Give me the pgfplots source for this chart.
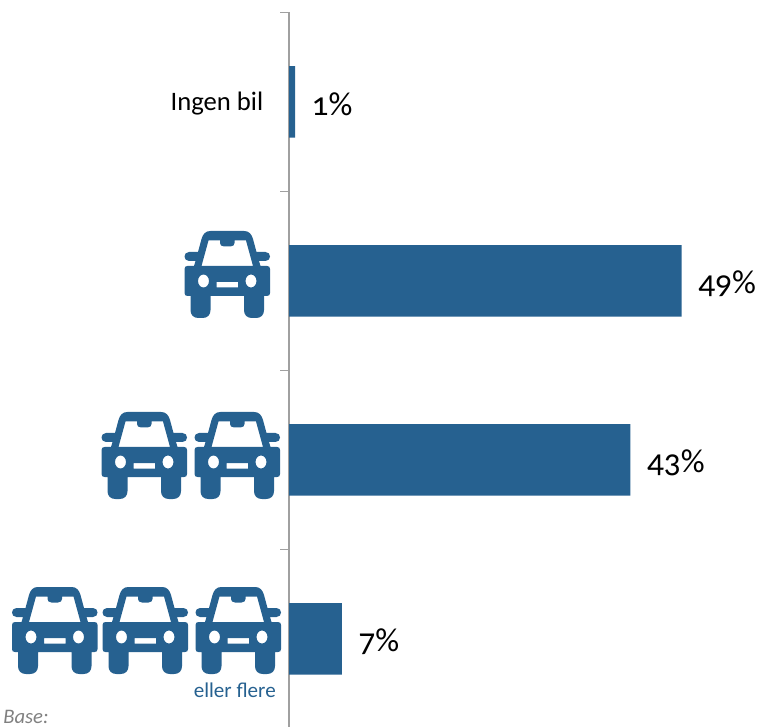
\documentclass[border=0pt]{standalone}
\usepackage{pgfplots}
\usepackage{pgfplotstable}
\usepackage{fontspec}
\pgfplotsset{compat=1.18}
\setmainfont[Numbers=OldStyle]{Carlito}
\definecolor{barblue}{HTML}{266190}
\definecolor{axgray}{HTML}{A0A0A0}
\pgfplotstableread{
x y m
0.75 0 1
49 1 49
42.6 2 43
6.6 3 7
}\shares
% car icon: drawn in reference pixels, origin at the icon's top-left corner (85.5 x 87 px)
\newcommand{\car}[2]{%
\begin{scope}[shift={(#1,#2)}]
\fill[barblue,even odd rule]
 (11,30) -- (4.5,30) .. controls (-1.5,30) and (-1.5,21) .. (4.5,21) -- (13.5,21)
 -- (17,8) .. controls (18.5,3) and (21,0) .. (26,0) -- (59.5,0) .. controls (64.5,0) and (67,3) .. (68.5,8)
 -- (72,21) -- (81,21) .. controls (87,21) and (87,30) .. (81,30) -- (74.5,30) -- (76,35)
 -- (82.5,35) .. controls (84.5,35) and (85.5,36) .. (85.5,38) -- (85.5,62) .. controls (85.5,64) and (84.5,65) .. (82.5,65)
 -- (79.5,65) -- (79.5,79) .. controls (79.5,84) and (76.5,87) .. (71.5,87) -- (67.5,87) .. controls (62.5,87) and (59.5,84) .. (59.5,79)
 -- (59.5,65) -- (26,65) -- (26,79) .. controls (26,84) and (23,87) .. (18,87) -- (14,87) .. controls (9,87) and (6,84) .. (6,79)
 -- (6,65) -- (3,65) .. controls (1,65) and (0,64) .. (0,62) -- (0,38) .. controls (0,36) and (1,35) .. (3,35) -- (9.5,35) -- cycle
 (17,35) -- (68.5,35) -- (61.5,9.5) -- (50,9.5) -- (50,12) .. controls (50,14) and (48.5,15.5) .. (46,15.5) -- (39.5,15.5)
 .. controls (37,15.5) and (35.5,14) .. (35.5,12) -- (35.5,9.5) -- (24,9.5) -- cycle
 (19,50) ellipse [x radius=5.5,y radius=6.5]
 (66.5,50) ellipse [x radius=5.5,y radius=6.5]
 (32,51) rectangle (53.5,56.5);
\end{scope}}
\begin{document}
\begin{tikzpicture}[x=0.75pt,y=-0.75pt]
\path[use as bounding box] (0,0) rectangle (761,727);
\begin{axis}[
  at={(216.75pt,-9.3pt)}, anchor=north west,
  scale only axis, width=354pt, height=537pt,
  clip=false,
  xmin=0, xmax=58.9,
  ymin=-0.5, ymax=3.5, y dir=reverse,
  axis y line=left, axis x line=none,
  y axis line style={-,draw=axgray,line width=1.7pt},
  ytick={-0.5,0.5,1.5,2.5,3.5}, yticklabels={},
  major tick length=6.5pt,
  y tick style={draw=axgray,line width=1.2pt},
  tick align=outside,
  xbar, bar width=53.5pt, bar shift=0pt,
  point meta=explicit,
  /pgf/number format/assume math mode=true,
  nodes near coords={\pgfmathprintnumber{\pgfplotspointmeta}\%},
  every node near coord/.append style={font=\fontsize{25}{27}\selectfont,text=black,anchor=west,inner sep=0pt,xshift=12.3pt,yshift=-2pt},
]
\addplot[fill=barblue,draw=none] table[x=x,y=y,meta=m] {\shares};
\end{axis}
\node[anchor=east,inner sep=0pt,font=\fontsize{20}{22}\selectfont] at (263.5,103.5) {Ingen bil};
\car{184.5}{231}
\car{101.5}{412}\car{194.5}{412}
\car{12}{587}\car{102.5}{587}\car{195.5}{587}
\node[anchor=east,inner sep=0pt,text=barblue,font=\fontsize{15.8}{17}\selectfont] at (276,690) {eller flere};
\node[anchor=west,inner sep=0pt,text=gray,font=\fontsize{15.5}{17}\itshape\selectfont] at (3,717) {Base:};
\end{tikzpicture}
\end{document}
